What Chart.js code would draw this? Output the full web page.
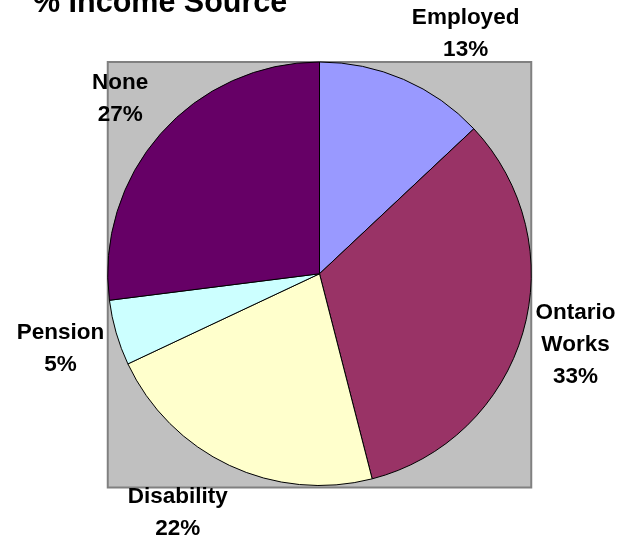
<!DOCTYPE html>
<html>
<head>
<meta charset="utf-8">
<title>% Income Source</title>
<script src="https://cdn.jsdelivr.net/npm/chart.js@4.4.1/dist/chart.umd.min.js"></script>
<style>
  html, body { margin: 0; padding: 0; background: #ffffff; }
  canvas { display: block; }
</style>
</head>
<body>
<canvas id="incomeChart" width="634" height="539"></canvas>
<script>
const categories = ['Employed', 'Ontario Works', 'Disability', 'Pension', 'None'];
const percents = [13, 33, 22, 5, 27];
const sliceColors = ['#9999ff', '#993366', '#ffffcc', '#ccffff', '#660066'];

// small nudges so the labels sit where the original layout puts them
const labelNudge = [[39, 8], [-3, -4], [-27, -5], [0, 0], [3, 3]];

// grey square behind the pie
const plotBackground = {
  id: 'plotBackground',
  beforeDatasetsDraw(chart) {
    const arc = chart.getDatasetMeta(0).data[0];
    if (!arc) return;
    const { x, y, outerRadius } = arc.getProps(['x', 'y', 'outerRadius'], true);
    const ctx = chart.ctx;
    ctx.save();
    ctx.fillStyle = '#c0c0c0';
    ctx.strokeStyle = '#808080';
    ctx.lineWidth = 2;
    ctx.fillRect(x - outerRadius, y - outerRadius, outerRadius * 2, outerRadius * 2 + 2);
    ctx.strokeRect(x - outerRadius, y - outerRadius, outerRadius * 2, outerRadius * 2 + 2);
    ctx.restore();
  }
};

// category name + percent outside each slice
const sliceLabels = {
  id: 'sliceLabels',
  afterDatasetsDraw(chart) {
    const ctx = chart.ctx;
    const values = chart.data.datasets[0].data;
    ctx.save();
    ctx.font = 'bold 22.5px "Liberation Sans", Arial, sans-serif';
    ctx.fillStyle = '#000000';
    ctx.textAlign = 'center';
    ctx.textBaseline = 'middle';
    chart.getDatasetMeta(0).data.forEach((arc, i) => {
      const p = arc.getProps(['x', 'y', 'startAngle', 'endAngle', 'outerRadius'], true);
      const mid = (p.startAngle + p.endAngle) / 2;
      const r = p.outerRadius + 58;
      const cx = p.x + Math.cos(mid) * r + labelNudge[i][0];
      const cy = p.y + Math.sin(mid) * r + labelNudge[i][1];
      const lines = chart.data.labels[i].split(' ').concat([values[i] + '%']);
      const lh = 32;
      lines.forEach((t, k) => {
        ctx.fillText(t, cx, cy + (k - (lines.length - 1) / 2) * lh);
      });
    });
    ctx.restore();
  }
};

const ctx = document.getElementById('incomeChart').getContext('2d');
new Chart(ctx, {
  type: 'pie',
  data: {
    labels: categories,
    datasets: [{
      data: percents,
      backgroundColor: sliceColors,
      borderColor: '#000000',
      borderWidth: 1,
      hoverOffset: 0
    }]
  },
  options: {
    responsive: false,
    animation: false,
    layout: { padding: { left: 33, right: 28, top: 0, bottom: 53 } },
    plugins: {
      legend: { display: false },
      tooltip: { enabled: false },
      title: {
        display: true,
        text: '% Income Source',
        align: 'start',
        color: '#000000',
        font: { family: '"Liberation Sans", Arial, sans-serif', size: 30.5, weight: 'bold', lineHeight: 1.2 },
        padding: { top: -14.5, bottom: 39.4 }
      }
    }
  },
  plugins: [plotBackground, sliceLabels]
});
</script>
</body>
</html>
